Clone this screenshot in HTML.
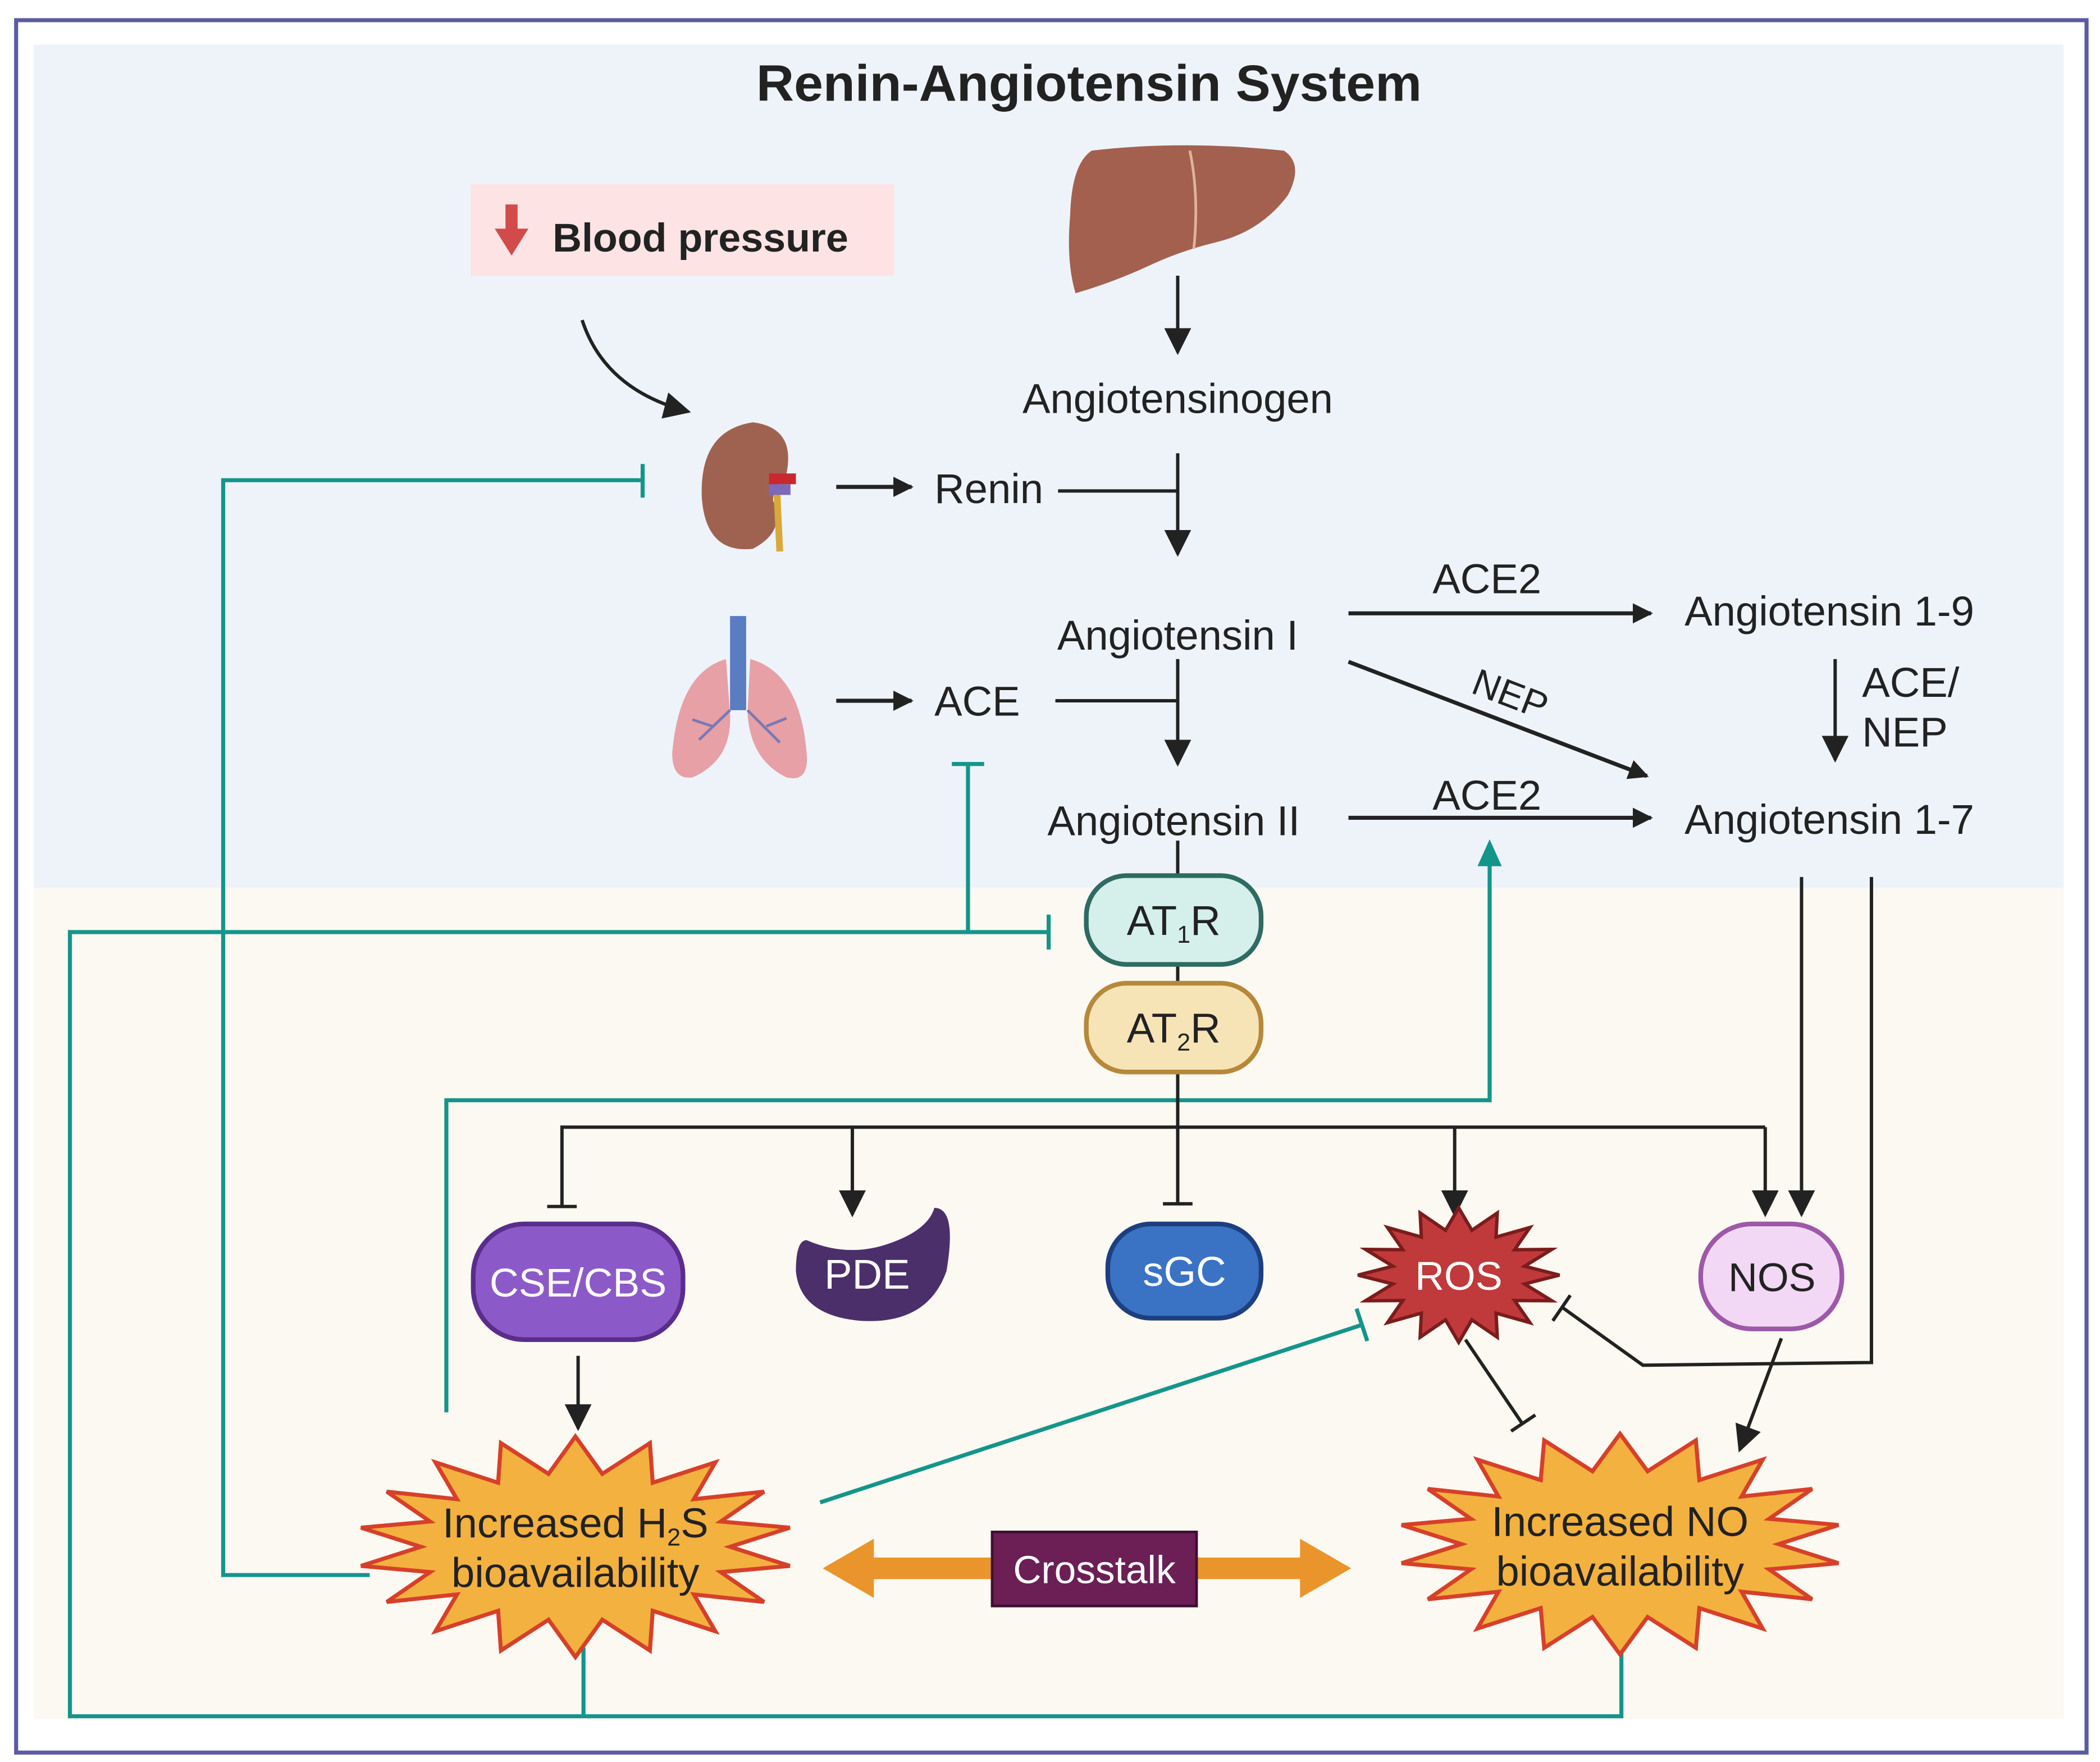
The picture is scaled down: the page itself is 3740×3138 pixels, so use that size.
<!DOCTYPE html>
<html><head><meta charset="utf-8"><style>
html,body{margin:0;padding:0;background:#fff}
svg{display:block}
text{font-family:"Liberation Sans",Arial,sans-serif;fill:#222}
</style></head><body>
<svg id="s" width="3740" height="3138" viewBox="0 0 1562 1310" preserveAspectRatio="none" xmlns="http://www.w3.org/2000/svg">
<defs>
<marker id="ab" viewBox="0 0 10 10" refX="9" refY="5" markerWidth="5" markerHeight="5" orient="auto" markerUnits="strokeWidth"><path d="M0,0 L10,5 L0,10 z" fill="#222"/></marker>
<marker id="ab2" viewBox="0 0 10 10" refX="9" refY="5" markerWidth="8" markerHeight="8" orient="auto" markerUnits="strokeWidth"><path d="M0,0 L10,5 L0,10 z" fill="#222"/></marker>
</defs>
<rect x="0" y="0" width="1562" height="1310" fill="#fff"/>
<rect x="12" y="15" width="1540" height="1288" fill="#fff" stroke="#5b5ba3" stroke-width="3"/>
<rect x="25" y="33" width="1510" height="628" fill="#eef3fa"/>
<rect x="25" y="660" width="1510" height="618" fill="#fbf9f1"/>
<text x="810" y="75" text-anchor="middle" font-size="38" font-weight="bold" textLength="495" lengthAdjust="spacingAndGlyphs">Renin-Angiotensin System</text>

<rect x="350" y="137" width="315" height="68" fill="#fde3e3"/>
<path d="M376,152 h9 v18 h8 l-12.5,20 l-12.5,-20 h8z" fill="#d24a4a"/>
<text x="411" y="187" font-size="30" font-weight="bold">Blood pressure</text>

<path d="M812,112 Q880,104 955,112 Q970,122 958,145 Q938,172 905,180 Q880,186 858,196 Q828,210 800,218 Q793,195 796,160 Q797,122 812,112z" fill="#a3604f"/>
<path d="M885,112 Q892,145 888,185" stroke="#e0b39a" stroke-width="2" fill="none"/>
<line x1="876" y1="205" x2="876" y2="262" stroke="#222" stroke-width="2.5" marker-end="url(#ab2)"/>
<text x="876" y="307" text-anchor="middle" font-size="31">Angiotensinogen</text>

<path d="M433,238 Q450,290 512,306" stroke="#222" stroke-width="2.5" fill="none" marker-end="url(#ab2)"/>
<path d="M560,314 Q592,318 585,352 Q575,362 575,372 Q585,395 560,408 Q525,412 522,370 Q520,320 560,314z" fill="#a06250"/>
<rect x="572" y="352" width="20" height="8" fill="#c8282e"/>
<rect x="572" y="360" width="16" height="8" fill="#7b6ab8"/>
<path d="M578,368 L580,410" stroke="#d8a838" stroke-width="5"/>
<line x1="622" y1="362" x2="678" y2="362" stroke="#222" stroke-width="3" marker-end="url(#ab)"/>
<text x="695" y="374" font-size="31">Renin</text>
<line x1="787" y1="365" x2="876" y2="365" stroke="#222" stroke-width="2.5"/>
<line x1="876" y1="337" x2="876" y2="412" stroke="#222" stroke-width="2.5" marker-end="url(#ab2)"/>

<rect x="543" y="458" width="12" height="70" fill="#5a7cc0"/>
<path d="M540,490 Q505,500 500,560 Q500,580 515,578 Q545,565 543,530z" fill="#e6a0a6"/>
<path d="M558,490 Q595,500 600,560 Q602,582 585,578 Q558,565 556,530z" fill="#e6a0a6"/>
<path d="M543,528 L520,550 M556,528 L580,552 M530,540 L515,535 M570,540 L585,534" stroke="#7a78b6" stroke-width="2"/>
<line x1="622" y1="521" x2="678" y2="521" stroke="#222" stroke-width="3" marker-end="url(#ab)"/>
<text x="695" y="532" font-size="31">ACE</text>
<line x1="785" y1="521" x2="876" y2="521" stroke="#222" stroke-width="2.5"/>
<line x1="876" y1="490" x2="876" y2="568" stroke="#222" stroke-width="2.5" marker-end="url(#ab2)"/>
<text x="876" y="483" text-anchor="middle" font-size="31">Angiotensin I</text>
<text x="873" y="621" text-anchor="middle" font-size="31">Angiotensin II</text>

<line x1="1003" y1="456" x2="1228" y2="456" stroke="#222" stroke-width="3" marker-end="url(#ab)"/>
<text x="1106" y="441" text-anchor="middle" font-size="31">ACE2</text>
<text x="1253" y="465" font-size="31">Angiotensin 1-9</text>
<line x1="1003" y1="492" x2="1225" y2="577" stroke="#222" stroke-width="3" marker-end="url(#ab)"/>
<text x="1120" y="525" text-anchor="middle" font-size="28" transform="rotate(21 1120 525)">NEP</text>
<line x1="1365" y1="490" x2="1365" y2="565" stroke="#222" stroke-width="2.5" marker-end="url(#ab2)"/>
<text x="1385" y="518" font-size="31">ACE/</text>
<text x="1385" y="555" font-size="31">NEP</text>
<line x1="1003" y1="608" x2="1228" y2="608" stroke="#222" stroke-width="3" marker-end="url(#ab)"/>
<text x="1106" y="602" text-anchor="middle" font-size="31">ACE2</text>
<text x="1253" y="620" font-size="31">Angiotensin 1-7</text>

<g stroke="#13958a" stroke-width="3" fill="none">
<polyline points="478,357 166,357 166,1171 275,1171"/>
<line x1="478" y1="345" x2="478" y2="370"/>
<polyline points="780,693 52,693 52,1276 1206,1276 1206,1222"/>
<line x1="780" y1="680" x2="780" y2="706"/>
<line x1="720" y1="693" x2="720" y2="568"/>
<line x1="708" y1="568" x2="732" y2="568"/>
<line x1="434" y1="1225" x2="434" y2="1276"/>
<polyline points="332,1050 332,818 1108,818 1108,628"/>
<line x1="610" y1="1117" x2="1013" y2="985"/>
<line x1="1009" y1="973" x2="1017" y2="997"/>
</g>
<path d="M1108,624 l-9,20 h18z" fill="#13958a"/>

<g stroke="#222" stroke-width="2.5" fill="none">
<line x1="876" y1="625" x2="876" y2="895"/>
<line x1="865" y1="895" x2="887" y2="895"/>
<polyline points="418,897 418,838 1313,838"/>
<line x1="407" y1="897" x2="429" y2="897"/>
<line x1="634" y1="838" x2="634" y2="903" marker-end="url(#ab2)"/>
<line x1="1082" y1="838" x2="1082" y2="903" marker-end="url(#ab2)"/>
<line x1="1313" y1="838" x2="1313" y2="903" marker-end="url(#ab2)"/>
<line x1="1340" y1="652" x2="1340" y2="903" marker-end="url(#ab2)"/>
<polyline points="1392,652 1392,1013 1222,1015 1162,972"/>
<line x1="1155" y1="982" x2="1168" y2="963"/>
<line x1="430" y1="1008" x2="430" y2="1062" marker-end="url(#ab2)"/>
<line x1="1090" y1="996" x2="1132" y2="1058"/>
<line x1="1124" y1="1064" x2="1142" y2="1052"/>
<line x1="1325" y1="995" x2="1294" y2="1078" marker-end="url(#ab2)"/>
</g>

<rect x="808" y="651" width="130" height="66" rx="30" fill="#d5efeb" stroke="#2e6b62" stroke-width="3.5"/>
<text x="873" y="695" text-anchor="middle" font-size="31">AT<tspan font-size="18" dy="6">1</tspan><tspan dy="-6">R</tspan></text>
<rect x="808" y="731" width="130" height="66" rx="30" fill="#f6e4b6" stroke="#b7883a" stroke-width="3.5"/>
<text x="873" y="775" text-anchor="middle" font-size="31">AT<tspan font-size="18" dy="6">2</tspan><tspan dy="-6">R</tspan></text>

<rect x="352" y="910" width="156" height="86" rx="38" fill="#8c5ac8" stroke="#5a2d8c" stroke-width="3.5"/>
<text x="430" y="964" text-anchor="middle" font-size="30" style="fill:#fff">CSE/CBS</text>
<path d="M600,922 Q630,935 660,925 Q690,915 695,898 Q712,898 704,945 Q690,985 640,982 Q595,978 592,945 Q592,922 600,922z" fill="#4b2f6b"/>
<text x="645" y="958" text-anchor="middle" font-size="31" style="fill:#fff">PDE</text>
<rect x="824" y="910" width="114" height="70" rx="32" fill="#3a73c4" stroke="#1d3f80" stroke-width="3.5"/>
<text x="881" y="956" text-anchor="middle" font-size="31" style="fill:#fff">sGC</text>
<polygon id="ros" fill="#c0393b" stroke="#7a1c1c" stroke-width="2.5"/>
<text x="1085" y="959" text-anchor="middle" font-size="30" style="fill:#fff">ROS</text>
<rect x="1265" y="910" width="105" height="78" rx="38" fill="#f2d8f5" stroke="#9e58a8" stroke-width="3.5"/>
<text x="1318" y="960" text-anchor="middle" font-size="30">NOS</text>

<polygon id="h2s" fill="#f3b13f" stroke="#d6402a" stroke-width="3"/>
<polygon id="no" fill="#f3b13f" stroke="#d6402a" stroke-width="3"/>
<text x="428" y="1143" text-anchor="middle" font-size="31">Increased H<tspan font-size="18" dy="6">2</tspan><tspan dy="-6">S</tspan></text>
<text x="428" y="1180" text-anchor="middle" font-size="31">bioavailability</text>
<text x="1205" y="1142" text-anchor="middle" font-size="31">Increased NO</text>
<text x="1205" y="1179" text-anchor="middle" font-size="31">bioavailability</text>

<rect x="640" y="1158" width="340" height="16" fill="#e9952b"/>
<path d="M612,1166 L650,1144 L650,1188z M1005,1166 L967,1144 L967,1188z" fill="#e9952b"/>
<rect x="738" y="1139" width="152" height="55" fill="#6b1f55" stroke="#3e0f30" stroke-width="2"/>
<text x="814" y="1177" text-anchor="middle" font-size="29" style="fill:#fff">Crosstalk</text>
</svg>
<script>
function star(id,cx,cy,rx,ry,ix,iy,n,rot){var p=[];for(var i=0;i<2*n;i++){var a=Math.PI*i/n+(rot||0)-Math.PI/2;var o=i%2==0;p.push((cx+(o?rx:ix)*Math.cos(a)).toFixed(1)+","+(cy+(o?ry:iy)*Math.sin(a)).toFixed(1));}document.getElementById(id).setAttribute("points",p.join(" "));}
star("ros",1085,948,75,50,50,34,16,0);
star("h2s",428,1150,162,82,115,55,18,0);
star("no",1205,1148,165,82,118,55,18,0);
</script>
</body></html>
